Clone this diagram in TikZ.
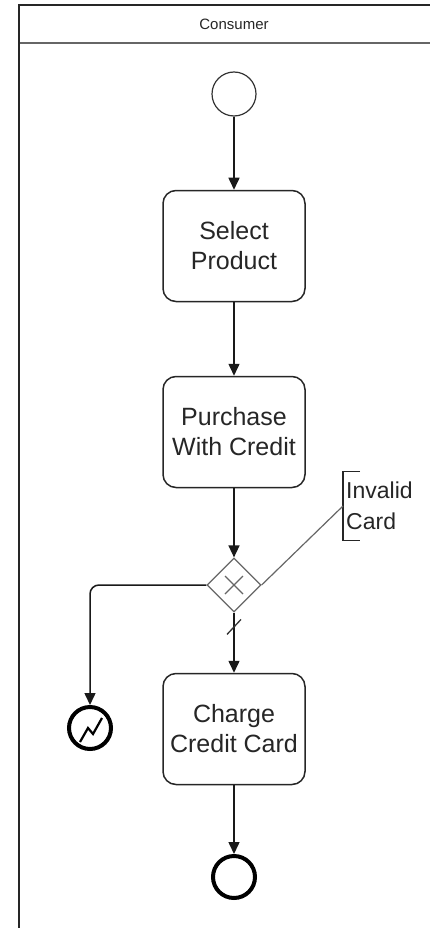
\documentclass[tikz,border=0pt]{standalone}
\usepackage{fontspec}
\setmainfont{Liberation Sans}
\usetikzlibrary{shapes.geometric, arrows.meta, positioning}
\tikzstyle{task} = [draw=black!85, line width=1.5pt, rounded corners=13pt, minimum width=142pt, minimum height=111pt, align=center, text=black!85, font=\fontsize{25}{30}\selectfont]
\tikzstyle{event} = [circle, draw=black, inner sep=0pt, minimum size=42pt, line width=4pt]
\tikzstyle{flow} = [draw, -{Triangle[length=12pt,width=11pt]}, line width=1.5pt, black!90]

\begin{document}
\begin{tikzpicture}[x=1pt, y=-1pt]
\useasboundingbox (0,0) rectangle (429,928);

% lane
\draw[line width=1.3pt, black!60] (19,43) -- (440,43);
\draw[line width=2pt, black!85] (440,5) -- (19,5) -- (19,940);
\node (lane) [text=black!85, font=\fontsize{15}{18}\selectfont] at (234,24) {Consumer};

% events and tasks
\node (start) [circle, draw=black!80, line width=1.2pt, inner sep=0pt, minimum size=44pt] at (234,94) {};
\node (select) [task] at (234,246) {Select\\Product};
\node (buy) [task] at (234,432) {Purchase\\With Credit};
\node (gate) [diamond, draw=black!60, line width=1.2pt, inner sep=0pt, minimum width=54pt, minimum height=54pt] at (234,585) {};
\node (charge) [task] at (234,729) {Charge\\Credit Card};
\node (finish) [event] at (234,877) {};
\node (err) [event] at (90,728) {};

% gateway marker
\draw[black!60, line width=1.2pt] (gate.center) +(-9,-9) -- +(9,9);
\draw[black!60, line width=1.2pt] (gate.center) +(-9,9) -- +(9,-9);

% error marker
\draw[line width=2.2pt, line join=miter] (err.center) ++(-10,14) -- ++(8,-14) -- ++(5,6) -- ++(9,-16);

% annotation
\node (note) [anchor=west, inner xsep=3pt, inner ysep=0pt, minimum height=68pt, align=left, text=black!85, font=\fontsize{23}{31}\selectfont] at (343,506) {Invalid\\Card};
\draw[line width=1.3pt, black!85] ([xshift=17pt]note.north west) -- (note.north west) -- (note.south west) -- ([xshift=17pt]note.south west);
\draw[black!60, line width=1.2pt] (gate.east) -- (note.west);

% flows
\draw[flow] (start) -- (select);
\draw[flow] (select) -- (buy);
\draw[flow] (buy) -- (gate);
\draw[flow] (gate) -- (charge);
\path (gate.south) -- (charge.north) coordinate[pos=0.23] (dflt);
\draw[line width=1.3pt, black!80] (dflt) +(-7,8) -- +(7,-7);
\draw[flow, rounded corners=9pt] (gate.west) -| (err.north);
\draw[flow] (charge) -- (finish);

\end{tikzpicture}
\end{document}
